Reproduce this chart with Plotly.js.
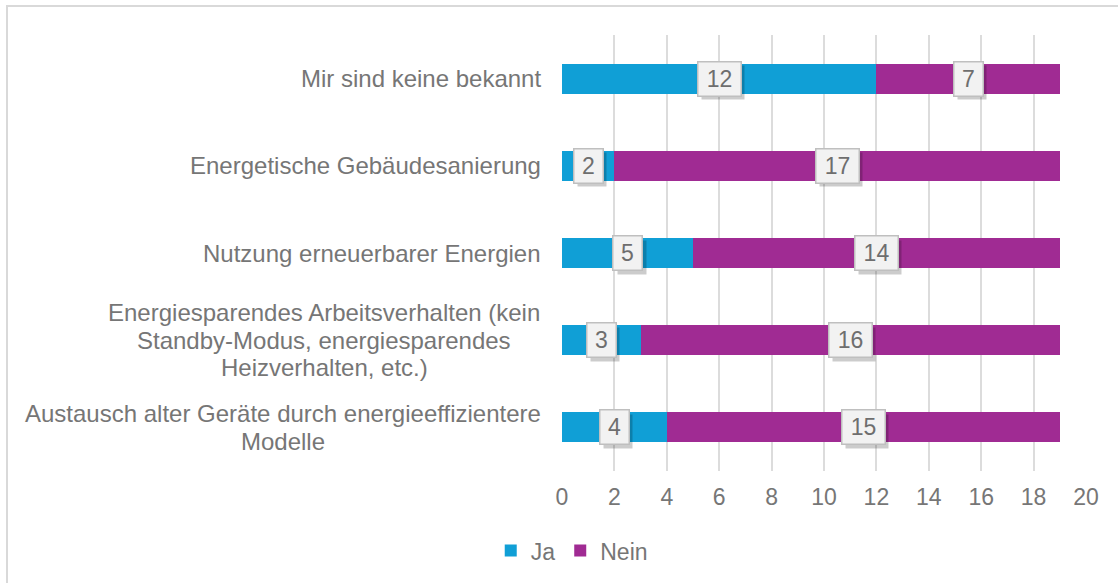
<!DOCTYPE html>
<html>
<head>
<meta charset="utf-8">
<script src="https://cdn.plot.ly/plotly-3.0.1.min.js"></script>
<style>
html,body{margin:0;padding:0;background:#fff;}
#wrap{position:relative;width:1118px;height:583px;}
#chart{position:absolute;left:0;top:0;width:1118px;height:583px;}
#frame{position:absolute;left:6px;top:5px;width:1120px;height:590px;border:2px solid #d9d9d9;box-sizing:border-box;pointer-events:none;}
</style>
</head>
<body>
<div id="wrap"><div id="chart"></div><div id="frame"></div></div>
<script>
const categories = [
  "Mir sind keine bekannt",
  "Energetische Gebäudesanierung",
  "Nutzung erneuerbarer Energien",
  "Energiesparendes Arbeitsverhalten (kein Standby-Modus, energiesparendes Heizverhalten, etc.)",
  "Austausch alter Geräte durch energieeffizientere Modelle"
];
const categoryLines = [
  ["Mir sind keine bekannt"],
  ["Energetische Gebäudesanierung"],
  ["Nutzung erneuerbarer Energien"],
  ["Energiesparendes Arbeitsverhalten (kein", "Standby-Modus, energiesparendes", "Heizverhalten, etc.)"],
  ["Austausch alter Geräte durch energieeffizientere", "Modelle"]
];
const ja = [12, 2, 5, 3, 4];
const nein = [7, 17, 14, 16, 15];
const xTicks = [0, 2, 4, 6, 8, 10, 12, 14, 16, 18, 20];

const textColor = "#767676";
const fontFam = "Liberation Sans, Arial, sans-serif";
const fs = 24;

const ctx = document.createElement("canvas").getContext("2d");
ctx.font = fs + "px 'Liberation Sans', Arial, sans-serif";

const traces = [
  {type: "bar", orientation: "h", name: "Ja", y: categories, x: ja,
   marker: {color: "#109fd6"}, hoverinfo: "x+name"},
  {type: "bar", orientation: "h", name: "Nein", y: categories, x: nein,
   marker: {color: "#a02b93"}, hoverinfo: "x+name"}
];

const annotations = [];
function addLabel(xc, yc, val) {
  const s = String(val);
  const w = s.length === 1 ? 22 : 36;
  // soft shadow box (no text)
  annotations.push({x: xc, y: yc, xref: "x", yref: "y", text: "&nbsp;", showarrow: false,
    font: {family: fontFam, size: 23, color: "rgba(0,0,0,0)"},
    width: w, height: 27, borderpad: 3, bgcolor: "rgba(0,0,0,0.2)",
    xshift: 4, yshift: -4});
  annotations.push({x: xc, y: yc, xref: "x", yref: "y", text: s, showarrow: false,
    font: {family: fontFam, size: 23, color: "#6e6e6e"},
    width: w, height: 27, borderpad: 3, bgcolor: "#f2f2f2",
    bordercolor: "#bfbfbf", borderwidth: 1.5});
}
const lineGap = 27.5;
for (let i = 0; i < categories.length; i++) {
  addLabel(ja[i] / 2, categories[i], ja[i]);
  addLabel(ja[i] + nein[i] / 2, categories[i], nein[i]);
  const lines = categoryLines[i];
  const maxW = Math.max(...lines.map(l => ctx.measureText(l).width));
  const mid = (lines.length - 1) / 2;
  lines.forEach((ln, j) => {
    annotations.push({x: 0, xref: "paper", y: categories[i], yref: "y",
      text: ln, showarrow: false, xanchor: "center", align: "center",
      xshift: -(21 + maxW / 2), yshift: (mid - j) * lineGap,
      font: {family: fontFam, size: fs, color: textColor}});
  });
}

const layout = {
  width: 1118, height: 583,
  margin: {l: 562, r: 32, t: 35, b: 111},
  paper_bgcolor: "#ffffff", plot_bgcolor: "#ffffff",
  barmode: "stack", bargap: 0.655,
  font: {family: fontFam, size: fs, color: textColor},
  xaxis: {range: [0, 20], tickvals: xTicks, ticktext: xTicks.map(String),
    showgrid: true, gridcolor: "#dcdcdc", gridwidth: 2, zeroline: false,
    showline: false, ticks: "", ticklabelstandoff: 10,
    tickfont: {family: fontFam, size: 23, color: textColor},
    fixedrange: true},
  yaxis: {categoryorder: "array", categoryarray: categories, autorange: "reversed",
    showticklabels: false, showgrid: false, zeroline: false, showline: false, ticks: "",
    fixedrange: true},
  showlegend: true,
  legend: {orientation: "h", traceorder: "normal", x: -0.136, xanchor: "left", y: -0.18, yanchor: "middle",
    font: {family: fontFam, size: 23, color: textColor}, itemwidth: 30, tracegroupgap: 0},
  annotations: annotations
};
Plotly.newPlot("chart", traces, layout, {displayModeBar: false, staticPlot: true});
</script>
</body>
</html>
